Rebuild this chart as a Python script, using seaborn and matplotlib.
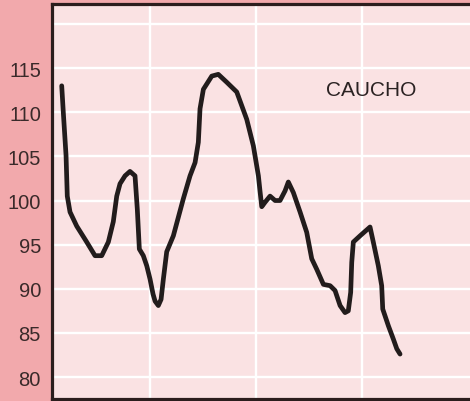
import matplotlib
matplotlib.use("Agg")
import matplotlib.pyplot as plt
import seaborn as sns
import pandas as pd

# Rubber price index, traced month by month (x = month number)
months = [2.0, 2.18, 2.49, 2.63, 2.94, 3.70, 4.83, 5.77, 6.53, 7.28, 7.84, 8.23,
          8.60, 9.17, 9.73, 10.30, 10.56, 10.79, 11.24, 11.63, 12.0, 12.34, 12.57,
          12.94, 13.25, 13.51, 13.89, 14.64, 15.77, 16.53, 17.10, 17.47, 17.66,
          18.04, 18.99, 19.73, 20.69, 21.82, 22.95, 23.70, 24.27, 24.46, 24.65,
          25.02, 25.59, 26.16, 26.72, 27.29, 27.66, 28.23, 28.99, 29.74, 30.31,
          30.88, 31.63, 32.39, 32.95, 33.52, 34.08, 34.45, 34.72, 34.84, 35.02,
          35.78, 36.91, 37.28, 37.85, 38.23, 38.35, 38.99, 39.55, 39.94, 40.31]
index = [113.0, 110.0, 105.1, 100.5, 98.7, 97.1, 95.3, 93.75, 93.75, 95.3, 97.6,
         100.5, 101.9, 102.8, 103.3, 102.8, 99.0, 94.5, 93.75, 92.6, 91.1, 89.4,
         88.6, 88.1, 88.8, 91.1, 94.2, 96.0, 100.2, 102.8, 104.3, 106.6, 110.4,
         112.6, 114.1, 114.3, 113.4, 112.3, 109.2, 106.2, 102.8, 101.0, 99.3,
         99.8, 100.5, 100.0, 100.0, 101.1, 102.1, 100.9, 98.7, 96.4, 93.4, 92.2,
         90.5, 90.35, 89.8, 88.1, 87.3, 87.5, 89.6, 93.0, 95.3, 96.0, 97.0, 95.3,
         92.6, 90.35, 87.7, 85.8, 84.3, 83.2, 82.6]

y_ticks = [80, 85, 90, 95, 100, 105, 110, 115, 120]
y_labels = ["80", "85", "90", "95", "100", "105", "110", "115", ""]
x_grid = [12, 24, 36]
series_label = "CAUCHO"

df = pd.DataFrame({"mes": months, "indice": index})

sns.set_theme(style="white")
plt.rcParams["font.family"] = ["Liberation Sans", "DejaVu Sans"]

fig = plt.figure(figsize=(4.70, 4.02), dpi=100, facecolor="#f2a9ac")
ax = fig.add_axes([52 / 470, 2 / 402, 1 - 52 / 470, 395 / 402])
ax.set_facecolor("#fae2e3")

sns.lineplot(data=df, x="mes", y="indice", sort=False, estimator=None, ax=ax,
             color="#221c1c", linewidth=3.4,
             solid_capstyle="round", solid_joinstyle="round", zorder=3)

ax.set_xlim(0.9, 48.23)
ax.set_ylim(77.51, 122.27)
ax.set_xticks(x_grid)
ax.set_xticklabels([])
ax.set_yticks(y_ticks)
ax.set_yticklabels(y_labels, fontsize=14.5, color="#3a2a2a")
ax.tick_params(axis="y", length=0, pad=8)
ax.tick_params(axis="x", length=0)
ax.set_xlabel("")
ax.set_ylabel("")

ax.grid(True, color="white", linewidth=1.7, zorder=1)
ax.set_axisbelow(True)

for side in ("left", "top", "bottom"):
    ax.spines[side].set_visible(True)
    ax.spines[side].set_color("#2b1d1d")
    ax.spines[side].set_linewidth(2.3)
ax.spines["right"].set_visible(False)

ax.text(0.655, 0.783, series_label, transform=ax.transAxes, fontsize=15,
        color="#2a2222", ha="left", va="center")

fig.savefig("out.png", dpi=100, facecolor=fig.get_facecolor())
